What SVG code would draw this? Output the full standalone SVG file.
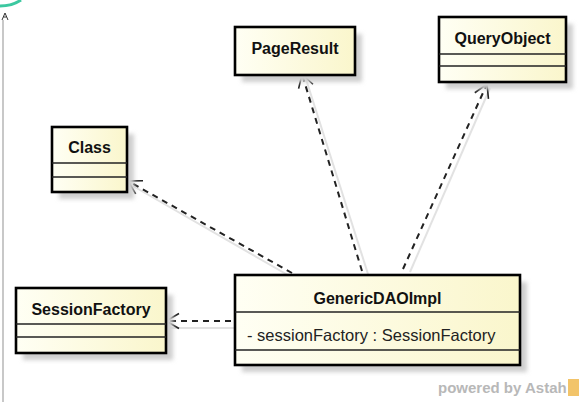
<svg xmlns="http://www.w3.org/2000/svg" width="580" height="402" viewBox="0 0 580 402">
<style>
.box{stroke:#000;stroke-width:2.6;fill:url(#fillg)}
.sep{stroke:#222;stroke-width:1.6}
.shadow{fill:#cfcfcf;filter:url(#blur)}
.name{font-family:"Liberation Sans",Arial,sans-serif;font-weight:bold;font-size:16px;fill:#111;text-anchor:middle}
.attr{font-family:"Liberation Sans",Arial,sans-serif;font-size:16.5px;fill:#222}
.dep{stroke:#222;stroke-width:2;stroke-dasharray:6 5;fill:none;marker-end:url(#open)}
.ghost{stroke:#e2e2e2;stroke-width:2;fill:none}
</style>
<defs>
<linearGradient id="fillg" x1="0" y1="0" x2="1" y2="0">
<stop offset="0" stop-color="#fffff4"/>
<stop offset="1" stop-color="#faf6cc"/>
</linearGradient>
<filter id="blur" x="-10%" y="-10%" width="130%" height="130%"><feGaussianBlur stdDeviation="2"/></filter>
<marker id="open" viewBox="-14 -9 16 18" refX="0" refY="0" markerWidth="16" markerHeight="18" markerUnits="userSpaceOnUse" orient="auto">
<path d="M-13,-7.5 L0,0 L-13,7.5" fill="none" stroke="#222" stroke-width="1.6"/>
</marker>
</defs>
<rect width="580" height="402" fill="#fff"/>
<line x1="3" y1="20" x2="3" y2="402" stroke="#c8c8c8" stroke-width="2"/>
<path d="M0,6 Q12,6 21,0" fill="none" stroke="#3cc8a0" stroke-width="3"/>
<path d="M2,20 L5,13 L8,20 M3.5,17 L6.5,17" fill="none" stroke="#333" stroke-width="1"/>

<g id="connectors">
<line class="ghost" x1="133" y1="186" x2="300" y2="282"/>
<line class="ghost" x1="305" y1="76" x2="368" y2="274"/>
<line class="ghost" x1="490" y1="88" x2="410" y2="272"/>
<line class="ghost" x1="170" y1="328" x2="234" y2="328"/>
<line class="dep" x1="292" y1="273" x2="128" y2="181"/>
<line class="dep" x1="362" y1="271" x2="302" y2="74"/>
<line class="dep" x1="403" y1="269" x2="487" y2="84"/>
<line class="dep" x1="231" y1="321" x2="166" y2="321"/>
</g>

<g id="PageResult">
<rect class="shadow" x="242" y="34" width="120" height="48"/>
<rect class="box" x="235" y="27" width="120" height="48"/>
<text class="name" x="295" y="54">PageResult</text>
</g>

<g id="QueryObject">
<rect class="shadow" x="446" y="24" width="127" height="65"/>
<rect class="box" x="439" y="17" width="127" height="65"/>
<line class="sep" x1="439" y1="54" x2="566" y2="54"/>
<line class="sep" x1="439" y1="66" x2="566" y2="66"/>
<text class="name" x="502.5" y="44">QueryObject</text>
</g>

<g id="Class">
<rect class="shadow" x="59" y="134" width="75" height="65"/>
<rect class="box" x="52" y="127" width="75" height="65"/>
<line class="sep" x1="52" y1="163" x2="127" y2="163"/>
<line class="sep" x1="52" y1="177" x2="127" y2="177"/>
<text class="name" x="89.5" y="153">Class</text>
</g>

<g id="SessionFactory">
<rect class="shadow" x="23" y="295" width="150" height="65"/>
<rect class="box" x="16" y="288" width="150" height="65"/>
<line class="sep" x1="16" y1="324" x2="166" y2="324"/>
<line class="sep" x1="16" y1="337" x2="166" y2="337"/>
<text class="name" x="91" y="315">SessionFactory</text>
</g>

<g id="GenericDAOImpl">
<rect class="shadow" x="242" y="282" width="285" height="90"/>
<rect class="box" x="235" y="275" width="285" height="90"/>
<line class="sep" x1="235" y1="312" x2="520" y2="312"/>
<line class="sep" x1="235" y1="350" x2="520" y2="350"/>
<text class="name" x="377.5" y="304">GenericDAOImpl</text>
<text class="attr" x="247" y="341">- sessionFactory : SessionFactory</text>
</g>

<g id="watermark">
<text x="438" y="393" font-family="'Liberation Sans',Arial,sans-serif" font-weight="bold" font-size="15" fill="#b8b8b8">powered by Astah</text>
<rect x="568" y="379" width="11" height="17" fill="#f2c46a"/>
</g>
</svg>
